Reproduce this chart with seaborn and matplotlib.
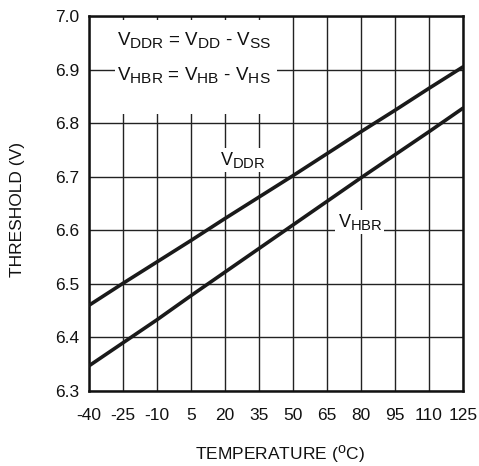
import pandas as pd
import seaborn as sns
import matplotlib.pyplot as plt
import matplotlib._mathtext as mt
from matplotlib.patches import Rectangle

temp = [-40, -25, -10, 5, 20, 35, 50, 65, 80, 95, 110, 125]
vddr = [6.460, 6.501, 6.541, 6.581, 6.622, 6.662, 6.702, 6.743, 6.784, 6.824, 6.865, 6.905]
vhbr = [6.347, 6.390, 6.433, 6.478, 6.522, 6.566, 6.610, 6.654, 6.698, 6.741, 6.784, 6.828]
yticks = [6.3, 6.4, 6.5, 6.6, 6.7, 6.8, 6.9, 7.0]

sns.set_theme(style='white')
plt.rcParams['font.family'] = ['Liberation Sans', 'DejaVu Sans']
plt.rcParams['mathtext.fontset'] = 'custom'
plt.rcParams['mathtext.rm'] = 'Liberation Sans'
plt.rcParams['mathtext.it'] = 'Liberation Sans'
plt.rcParams['axes.unicode_minus'] = False
# subscripts in the original are drawn fairly large
mt.SHRINK_FACTOR = 0.82

df = pd.DataFrame({
    'temp': temp * 2,
    'v': vddr + vhbr,
    'series': ['VDDR'] * len(temp) + ['VHBR'] * len(temp),
})

fig = plt.figure(figsize=(4.79, 4.66), dpi=100)
ax = fig.add_axes([0.1858, 0.1609, 0.7808, 0.8048])
sns.lineplot(data=df, x='temp', y='v', hue='series', palette=['#1a1a1a', '#1a1a1a'],
             lw=2.6, legend=False, ax=ax, zorder=5)

ax.set_xlim(-40, 125)
ax.set_ylim(6.3, 7.0)
ax.set_xticks(temp)
ax.set_xticklabels([str(t) for t in temp])
ax.set_yticks(yticks)
ax.set_yticklabels([f'{v:.1f}' for v in yticks])
ax.grid(True, color='#222222', lw=1.0)
ax.tick_params(length=0, labelsize=12.5, colors='#111111')
ax.tick_params(axis='x', pad=12)
ax.tick_params(axis='y', pad=7)
for s in ax.spines.values():
    s.set_color('#111111')
    s.set_linewidth(1.8)

ax.set_xlabel('TEMPERATURE ($^{\\mathrm{o}}$C)', fontsize=12.5, color='#111111')
ax.xaxis.label.set_va('bottom')
ax.xaxis.set_label_coords(0.51, -0.198)
ax.set_ylabel('THRESHOLD (V)', fontsize=12.5, color='#111111')
ax.yaxis.set_label_coords(-0.17, 0.483)

# white box behind the formula text
ax.add_patch(Rectangle((0.0695, 0.739), 0.433, 0.25, transform=ax.transAxes,
                       fc='white', ec='none', zorder=1))
ax.text(0.075, 0.936, 'V$_{\\mathrm{DDR}}$ = V$_{\\mathrm{DD}}$ - V$_{\\mathrm{SS}}$',
        transform=ax.transAxes, ha='left', va='center', fontsize=13.5, color='#111111', zorder=6)
ax.text(0.075, 0.843, 'V$_{\\mathrm{HBR}}$ = V$_{\\mathrm{HB}}$ - V$_{\\mathrm{HS}}$',
        transform=ax.transAxes, ha='left', va='center', fontsize=13.5, color='#111111', zorder=6)

ax.text(27.9, 6.731, 'V$_{\\mathrm{DDR}}$', ha='center', va='center', fontsize=13, color='#111111',
        bbox=dict(fc='white', ec='none', pad=1.5), zorder=6)
ax.text(79.5, 6.615, 'V$_{\\mathrm{HBR}}$', ha='center', va='center', fontsize=13, color='#111111',
        bbox=dict(fc='white', ec='none', pad=1.5), zorder=6)

fig.savefig('out.png', dpi=100)
